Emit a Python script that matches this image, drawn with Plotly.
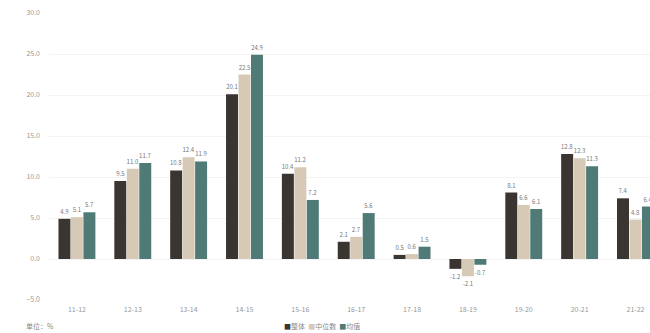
import plotly.graph_objects as go

# Categories (fiscal periods) and the three series
periods = ["11-12", "12-13", "13-14", "14-15", "15-16", "16-17",
           "17-18", "18-19", "19-20", "20-21", "21-22"]
overall = [4.9, 9.5, 10.8, 20.1, 10.4, 2.1, 0.5, -1.2, 8.1, 12.8, 7.4]
median = [5.1, 11.0, 12.4, 22.5, 11.2, 2.7, 0.6, -2.1, 6.6, 12.3, 4.8]
mean = [5.7, 11.7, 11.9, 24.9, 7.2, 5.6, 1.5, -0.7, 6.1, 11.3, 6.4]

series_names = ["整体", "中位数", "均值"]
colors = ["#3b3532", "#d6cab7", "#4f7a75"]

fig = go.Figure()
for name, vals, col in zip(series_names, [overall, median, mean], colors):
    fig.add_trace(go.Bar(
        x=periods, y=vals, name=name, marker_color=col,
        marker_line_width=0,
        text=[f"{v:.1f}" for v in vals], textposition="outside",
        textfont=dict(size=6, color="#777777"),
        constraintext="none", cliponaxis=False,
    ))

# compact inline key built from the series names and colours
key_text = "&nbsp;&nbsp;".join(
    f"<span style='color:{c}'>■</span>{n}" for n, c in zip(series_names, colors)
)

fig.update_layout(
    width=650, height=333,
    margin=dict(l=49, r=0, t=13, b=33),
    paper_bgcolor="white", plot_bgcolor="white",
    barmode="group", bargap=0.33, bargroupgap=0.04,
    font=dict(family="Noto Sans CJK SC, Noto Sans, sans-serif", size=7, color="#888888"),
    showlegend=False,
    xaxis=dict(type="category", range=[-0.5, 10.26], showgrid=False, showline=False,
               zeroline=False, tickfont=dict(size=7, color="#999999"), ticks="",
               automargin=False, ticklabelstandoff=4),
    yaxis=dict(range=[-5, 30], tickvals=[-5, 0, 5, 10, 15, 20, 25, 30],
               tickformat=".1f", showgrid=True, gridcolor="#f3f3f3", gridwidth=1,
               zeroline=False, showline=False, automargin=False,
               tickfont=dict(size=7, color="#999999"), ticks="",
               ticklabelstandoff=8),
    annotations=[
        dict(text="单位：%", xref="paper", yref="paper",
             x=-0.015, y=-0.09, xanchor="center", yanchor="middle",
             showarrow=False, font=dict(size=7, color="#888888")),
        dict(text=key_text, xref="paper", yref="paper",
             x=0.455, y=-0.09, xanchor="center", yanchor="middle",
             showarrow=False, font=dict(size=7, color="#888888")),
    ],
)

fig.write_html("out.html")
